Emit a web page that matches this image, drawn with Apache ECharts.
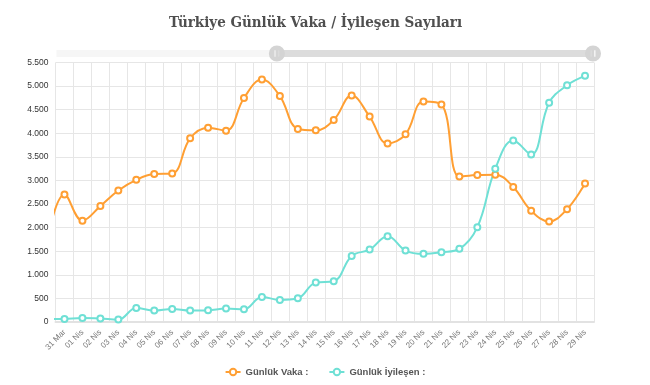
<!DOCTYPE html>
<html>
<head>
<meta charset="utf-8">
<script src="https://cdn.jsdelivr.net/npm/echarts@6/dist/echarts.min.js"></script>
<style>html,body{margin:0;padding:0;background:#fff;}#c{width:650px;height:385px;}</style>
</head>
<body>
<div id="c"></div>
<script>
// Categories: 11 Mar .. 29 Nis (the zoom window shows 31 Mar .. 29 Nis)
const hiddenDays = ['11 Mar','12 Mar','13 Mar','14 Mar','15 Mar','16 Mar','17 Mar','18 Mar','19 Mar','20 Mar',
  '21 Mar','22 Mar','23 Mar','24 Mar','25 Mar','26 Mar','27 Mar','28 Mar','29 Mar','30 Mar'];
const visibleDays = ['31 Mar','01 Nis','02 Nis','03 Nis','04 Nis','05 Nis','06 Nis','07 Nis','08 Nis','09 Nis',
  '10 Nis','11 Nis','12 Nis','13 Nis','14 Nis','15 Nis','16 Nis','17 Nis','18 Nis','19 Nis',
  '20 Nis','21 Nis','22 Nis','23 Nis','24 Nis','25 Nis','26 Nis','27 Nis','28 Nis','29 Nis'];
const categories = hiddenDays.concat(visibleDays);

// Values before the window cannot be read (null) except 30 Mar, whose curve enters at the left edge
const vakaHidden = [null,null,null,null,null,null,null,null,null,null,null,null,null,null,null,null,null,null,null,1650];
const vakaVisible = [2704,2148,2456,2786,3013,3135,3148,3892,4117,4056,
  4747,5138,4789,4093,4062,4281,4801,4353,3783,3977,
  4674,4611,3083,3116,3122,2861,2357,2131,2392,2936];
const iyilesenHidden = [null,null,null,null,null,null,null,null,null,null,null,null,null,null,null,null,null,null,null,60];
const iyilesenVisible = [66,87,72,51,299,242,277,242,249,284,
  270,532,468,503,835,863,1401,1535,1818,1514,
  1444,1478,1550,2009,3246,3847,3550,4646,5019,5218];

const vaka = vakaHidden.concat(vakaVisible);
const iyilesen = iyilesenHidden.concat(iyilesenVisible);

const yMax = 5500, yInterval = 500;
const titleText = 'Türkiye Günlük Vaka / İyileşen Sayıları';
const seriesNames = ['Günlük Vaka :', 'Günlük İyileşen :'];
const colors = ['#FF9F33', '#6FE0D5'];

const handlePath = 'path://M0,-10A10,10 0 1,1 0,10A10,10 0 1,1 0,-10Z' +
  'M-3,-4L-3,4L-1.6,4L-1.6,-4Z M1.6,-4L1.6,4L3,4L3,-4Z';

const chart = echarts.init(document.getElementById('c'), null, {renderer: 'canvas'});
chart.setOption({
  animation: false,
  backgroundColor: '#fff',
  color: colors,
  title: {
    text: titleText,
    left: 164,
    top: 11,
    textStyle: {fontFamily: '"DejaVu Serif Condensed", "DejaVu Serif"', fontWeight: 'bold', fontSize: 15, color: '#4f4f4f'}
  },
  legend: {
    bottom: 3,
    left: 'center',
    itemWidth: 15,
    itemHeight: 8,
    itemGap: 20,
    textStyle: {fontFamily: 'Liberation Sans', fontWeight: 'bold', fontSize: 9.5, color: '#555'},
    data: seriesNames
  },
  grid: {left: 55.5, right: 56, top: 62.5, bottom: 63, containLabel: false},
  dataZoom: [{
    type: 'slider',
    xAxisIndex: 0,
    filterMode: 'none',
    startValue: 20,
    endValue: categories.length - 1,
    top: 50,
    height: 7,
    left: 55.5,
    right: 57,
    showDetail: false,
    showDataShadow: false,
    brushSelect: false,
    moveHandleSize: 0,
    borderColor: 'transparent',
    backgroundColor: '#f6f6f6',
    fillerColor: '#dcdcdc',
    handleIcon: handlePath,
    handleSize: '230%',
    handleStyle: {color: '#d4d4d4', borderColor: '#d4d4d4', borderWidth: 0},
    emphasis: {handleStyle: {color: '#d4d4d4'}}
  }],
  xAxis: {
    type: 'category',
    data: categories,
    boundaryGap: true,
    axisLine: {lineStyle: {color: '#e2e2e2', width: 2}},
    axisTick: {show: false},
    splitLine: {show: true, lineStyle: {color: '#e6e6e6'}},
    axisLabel: {rotate: 45, fontSize: 8, color: '#777', margin: 9, interval: 0, fontFamily: 'Liberation Sans'}
  },
  yAxis: {
    type: 'value',
    min: 0,
    max: yMax,
    interval: yInterval,
    axisLine: {show: false},
    axisTick: {show: false},
    splitLine: {lineStyle: {color: '#e6e6e6'}},
    axisLabel: {
      fontSize: 8.5, color: '#333', margin: 7, fontFamily: 'Liberation Sans',
      formatter: v => v.toString().replace(/\B(?=(\d{3})+(?!\d))/g, '.')
    }
  },
  series: [{
    name: seriesNames[0],
    type: 'line',
    data: vaka,
    smooth: 0.4,
    symbol: 'emptyCircle',
    symbolSize: 6,
    lineStyle: {width: 2},
    itemStyle: {borderWidth: 1.8}
  }, {
    name: seriesNames[1],
    type: 'line',
    data: iyilesen,
    smooth: 0.4,
    symbol: 'emptyCircle',
    symbolSize: 6,
    lineStyle: {width: 2},
    itemStyle: {borderWidth: 1.8}
  }]
});
</script>
</body>
</html>
